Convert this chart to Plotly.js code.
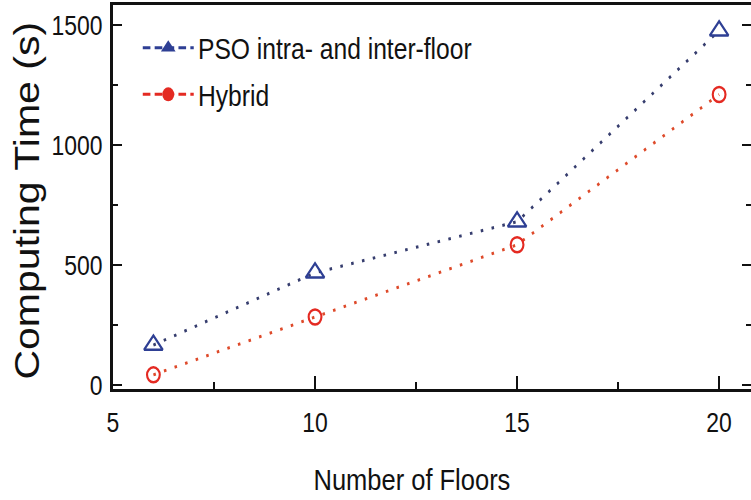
<!DOCTYPE html>
<html>
<head>
<meta charset="utf-8">
<script src="https://cdn.plot.ly/plotly-3.0.1.min.js"></script>
<style>
html,body{margin:0;padding:0;background:#fff;overflow:hidden;width:751px;height:500px;}
#chart{width:884px;height:500px;transform:scaleX(0.8496);transform-origin:0 0;}
</style>
</head>
<body>
<div id="chart"></div>
<script>
const floors = [6, 10, 15, 20];
const psoTime = [168, 469, 682, 1478];
const hybridTime = [44, 285, 586, 1212];
const seriesNames = ["PSO intra- and inter-floor", "Hybrid"];
const xTicks = [5, 10, 15, 20];
const yTicks = [0, 500, 1000, 1500];

const sans = '"Liberation Sans", Arial, Helvetica, sans-serif';
const blue = '#2e3f94';
const blueLine = '#363d6e';
const red = '#e42a22';
const redLine = '#de4a2a';

const traces = [
  {x: floors, y: psoTime, mode: 'lines+markers', showlegend: false,
   line: {color: blueLine, width: 3, dash: '3px,10px'},
   marker: {symbol: 'triangle-up-open', size: 19, color: blue, line: {width: 2.5, color: blue}}},
  {x: floors, y: hybridTime, mode: 'lines+markers', showlegend: false,
   line: {color: redLine, width: 3, dash: '3px,10px'},
   marker: {symbol: 'circle-open', size: 15, color: red, line: {width: 2.5, color: red}}},
  {x: [null], y: [null], mode: 'lines+markers', name: seriesNames[0], legendgroup: 'a',
   line: {color: blue, width: 3, dash: '9px,5px'},
   marker: {symbol: 'triangle-up', size: 15, color: blue}},
  {x: [null], y: [null], mode: 'lines+markers', name: seriesNames[1], legendgroup: 'b',
   line: {color: red, width: 3, dash: '9px,5px'},
   marker: {symbol: 'circle', size: 14, color: red}}
];

const layout = {
  width: 884, height: 500,
  margin: {l: 133, r: 0, t: 5, b: 111, pad: 0},
  paper_bgcolor: '#fff', plot_bgcolor: '#fff',
  showlegend: true,
  legend: {x: 0.04, y: 0.955, xanchor: 'left', yanchor: 'top', bgcolor: 'rgba(0,0,0,0)',
    font: {family: sans, size: 29, color: '#111'}, itemwidth: 60, tracegroupgap: 6,
    traceorder: 'grouped'},
  xaxis: {range: [5, 20.79], tickvals: xTicks, ticktext: xTicks.map(String),
    ticks: 'inside', ticklen: 13, tickwidth: 2, tickcolor: '#111',
    minor: {tickvals: [7.5, 12.5, 17.5], ticks: 'inside', ticklen: 7, tickwidth: 2, tickcolor: '#111'},
    showline: true, linewidth: 3, linecolor: '#111', mirror: true,
    showgrid: false, zeroline: false,
    tickfont: {family: sans, size: 27, color: '#111'}, ticklabelstandoff: 8},
  yaxis: {range: [-15, 1585], tickvals: yTicks, ticktext: yTicks.map(String),
    ticks: 'inside', ticklen: 11, tickwidth: 2, tickcolor: '#111',
    minor: {tickvals: [250, 750, 1250], ticks: 'inside', ticklen: 6, tickwidth: 2, tickcolor: '#111'},
    showline: true, linewidth: 3, linecolor: '#111', mirror: 'ticks',
    showgrid: false, zeroline: false,
    tickfont: {family: sans, size: 27, color: '#111'}, ticklabelstandoff: 4},
  annotations: [
    {text: 'Number of Floors', xref: 'paper', yref: 'paper', x: 0.4687, y: -0.235,
     xanchor: 'center', yanchor: 'middle', showarrow: false,
     font: {family: sans, size: 30, color: '#111'}},
    {text: 'Computing Time (s)', xref: 'paper', yref: 'paper', x: -0.1348, y: 0.49,
     xanchor: 'center', yanchor: 'middle', showarrow: false, textangle: -90,
     font: {family: sans, size: 41, color: '#111'}}
  ]
};

Plotly.newPlot('chart', traces, layout, {displayModeBar: false, staticPlot: true});
</script>
</body>
</html>
